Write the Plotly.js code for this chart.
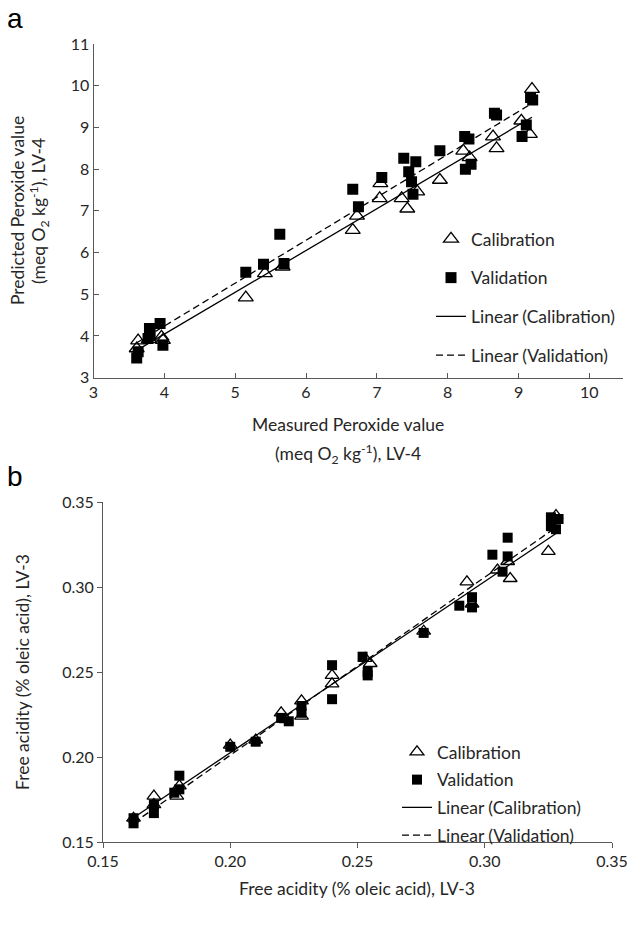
<!DOCTYPE html>
<html>
<head>
<meta charset="utf-8">
<script src="https://cdn.plot.ly/plotly-3.0.1.min.js"></script>
<style>html,body{margin:0;padding:0;background:#fff;}#chart{width:642px;height:926px;}</style>
</head>
<body>
<div id="chart"></div>
<script>
// ---- Panel a: Peroxide value (meq O2 kg-1), LV-4 ----
const peroxCalMeasured = [3.61,3.63,3.78,3.96,3.98,5.15,5.42,5.67,6.66,6.72,7.04,7.05,7.35,7.43,7.57,7.89,8.22,8.31,8.64,8.69,9.04,9.16,9.19];
const peroxCalPredicted = [3.70,3.89,3.92,3.98,3.90,4.92,5.50,5.66,6.54,6.88,7.30,7.66,7.30,7.05,7.46,7.74,8.44,8.28,8.78,8.50,9.16,8.84,9.92];
const peroxValMeasured = [3.61,3.63,3.77,3.79,3.80,3.94,3.98,5.15,5.40,5.63,5.69,6.66,6.74,7.07,7.38,7.45,7.49,7.51,7.55,7.89,8.24,8.25,8.30,8.33,8.66,8.69,9.05,9.11,9.17,9.20];
const peroxValPredicted = [3.47,3.62,3.94,4.18,4.06,4.30,3.78,5.53,5.72,6.44,5.74,7.52,7.10,7.80,8.26,7.94,7.70,7.40,8.18,8.44,8.78,8.00,8.72,8.12,9.34,9.30,8.78,9.06,9.72,9.66];
const peroxXTicks = [3,4,5,6,7,8,9,10];
const peroxYTicks = [3,4,5,6,7,8,9,10,11];

// ---- Panel b: Free acidity (% oleic acid), LV-3 ----
const faCalMeasured = [0.162,0.170,0.170,0.179,0.180,0.200,0.210,0.220,0.222,0.228,0.228,0.240,0.240,0.253,0.255,0.276,0.293,0.295,0.305,0.309,0.310,0.325,0.327,0.328];
const faCalPredicted = [0.164,0.177,0.172,0.177,0.183,0.207,0.210,0.226,0.222,0.233,0.224,0.248,0.243,0.258,0.255,0.274,0.303,0.290,0.310,0.315,0.305,0.321,0.335,0.342];
const faValMeasured = [0.162,0.162,0.170,0.170,0.178,0.180,0.180,0.200,0.210,0.220,0.223,0.228,0.228,0.240,0.240,0.252,0.254,0.254,0.276,0.290,0.295,0.295,0.303,0.307,0.309,0.309,0.326,0.326,0.328,0.329];
const faValPredicted = [0.161,0.164,0.167,0.172,0.179,0.189,0.181,0.206,0.209,0.223,0.221,0.230,0.226,0.254,0.234,0.259,0.248,0.250,0.273,0.289,0.294,0.288,0.319,0.309,0.329,0.318,0.341,0.336,0.334,0.340];
const faTicks = [0.15,0.20,0.25,0.30,0.35];
const faTickText = ['0.15','0.20','0.25','0.30','0.35'];

const legendNames = ['Calibration','Validation','Linear (Calibration)','Linear (Validation)'];

function fit(xs, ys){
  const n = xs.length;
  let sx=0, sy=0, sxx=0, sxy=0;
  for(let i=0;i<n;i++){sx+=xs[i];sy+=ys[i];sxx+=xs[i]*xs[i];sxy+=xs[i]*ys[i];}
  const b = (n*sxy - sx*sy)/(n*sxx - sx*sx);
  const a = (sy - b*sx)/n;
  const x0 = Math.min(...xs), x1 = Math.max(...xs);
  return {x:[x0,x1], y:[a+b*x0, a+b*x1]};
}

const FONT = 'Lato, "Open Sans", sans-serif';
const TXT = '#262626';
const W = 642, H = 926;

function panelTraces(calX, calY, valX, valY, xa, ya, leg, triSize, sqSize){
  const fc = fit(calX, calY), fv = fit(valX, valY);
  return [
    {x: calX, y: calY, type:'scatter', mode:'markers', name: legendNames[0], legend: leg, legendgroup: leg+'g1',
     xaxis: xa, yaxis: ya, marker:{symbol:'triangle-up-open', size: triSize, color:'#000', line:{width:1.3, color:'#000'}}},
    {x: valX, y: valY, type:'scatter', mode:'markers', name: legendNames[1], legend: leg, legendgroup: leg+'g2',
     xaxis: xa, yaxis: ya, marker:{symbol:'square', size: sqSize, color:'#000'}},
    {x: fc.x, y: fc.y, type:'scatter', mode:'lines', name: legendNames[2], legend: leg, legendgroup: leg+'g3',
     xaxis: xa, yaxis: ya, line:{color:'#000', width:1.3}},
    {x: fv.x, y: fv.y, type:'scatter', mode:'lines', name: legendNames[3], legend: leg, legendgroup: leg+'g4',
     xaxis: xa, yaxis: ya, line:{color:'#000', width:1.3, dash:'7px,4px'}}
  ];
}

const data = [
  ...panelTraces(peroxCalMeasured, peroxCalPredicted, peroxValMeasured, peroxValPredicted, 'x', 'y', 'legend', 13, 11),
  ...panelTraces(faCalMeasured, faCalPredicted, faValMeasured, faValPredicted, 'x2', 'y2', 'legend2', 12, 10)
];

const axisCommon = {
  showgrid:false, zeroline:false, showline:true, linecolor:'#595959', linewidth:1,
  tickcolor:'#595959', ticklen:5, tickwidth:1,
  tickfont:{family: FONT, size:16, color: TXT}, fixedrange:true
};

const px = (v)=>v/W, py = (v)=>1 - v/H;

const layout = {
  width: W, height: H,
  margin:{l:0,r:0,t:0,b:0},
  paper_bgcolor:'#fff', plot_bgcolor:'#fff',
  showlegend:true,
  hovermode:false,
  xaxis: Object.assign({}, axisCommon, {domain:[px(93.5), px(623)], range:[3,10.475], tickvals: peroxXTicks, ticks:'inside', anchor:'y'}),
  yaxis: Object.assign({}, axisCommon, {domain:[py(377.7), py(44)], range:[3,11], tickvals: peroxYTicks, ticks:'inside', anchor:'x'}),
  xaxis2: Object.assign({}, axisCommon, {domain:[px(103), px(612)], range:[0.15,0.35], tickvals: faTicks, ticktext: faTickText, ticks:'outside', anchor:'y2'}),
  yaxis2: Object.assign({}, axisCommon, {domain:[py(842), py(502)], range:[0.15,0.35], tickvals: faTicks, ticktext: faTickText, ticks:'outside', anchor:'x2'}),
  legend: {x: px(431), y: py(221), xanchor:'left', yanchor:'top', bgcolor:'rgba(0,0,0,0)',
           font:{family: FONT, size:17.5, color: TXT}, traceorder:'grouped', tracegroupgap:13, itemwidth:30},
  legend2: {x: px(397), y: py(734), xanchor:'left', yanchor:'top', bgcolor:'rgba(0,0,0,0)',
           font:{family: FONT, size:17.5, color: TXT}, traceorder:'grouped', tracegroupgap:2, itemwidth:30},
  annotations: [
    {text:'a', x: px(15), y: py(18), xref:'paper', yref:'paper', xanchor:'center', yanchor:'middle', showarrow:false,
     font:{family:'Liberation Sans, Arial, sans-serif', size:28, color:'#000'}},
    {text:'b', x: px(15), y: py(476), xref:'paper', yref:'paper', xanchor:'center', yanchor:'middle', showarrow:false,
     font:{family:'Liberation Sans, Arial, sans-serif', size:28, color:'#000'}},
    {text:'Predicted Peroxide value', x: px(18), y: py(211), xref:'paper', yref:'paper', textangle:-90, showarrow:false,
     xanchor:'center', yanchor:'middle', font:{family: FONT, size:17.5, color: TXT}},
    {text:'(meq O<sub>2</sub> kg<sup>-1</sup>), LV-4', x: px(39), y: py(211), xref:'paper', yref:'paper', textangle:-90, showarrow:false,
     xanchor:'center', yanchor:'middle', font:{family: FONT, size:17.5, color: TXT}},
    {text:'Measured Peroxide value', x: px(348), y: py(424), xref:'paper', yref:'paper', showarrow:false,
     xanchor:'center', yanchor:'middle', font:{family: FONT, size:17.5, color: TXT}},
    {text:'(meq O<sub>2</sub> kg<sup>-1</sup>), LV-4', x: px(348), y: py(454), xref:'paper', yref:'paper', showarrow:false,
     xanchor:'center', yanchor:'middle', font:{family: FONT, size:17.5, color: TXT}},
    {text:'Free acidity (% oleic acid), LV-3', x: px(22), y: py(672), xref:'paper', yref:'paper', textangle:-90, showarrow:false,
     xanchor:'center', yanchor:'middle', font:{family: FONT, size:17.5, color: TXT}},
    {text:'Free acidity (% oleic acid), LV-3', x: px(357), y: py(888), xref:'paper', yref:'paper', showarrow:false,
     xanchor:'center', yanchor:'middle', font:{family: FONT, size:17.5, color: TXT}}
  ]
};

Plotly.newPlot('chart', data, layout, {displayModeBar:false, staticPlot:true});
</script>
</body>
</html>
